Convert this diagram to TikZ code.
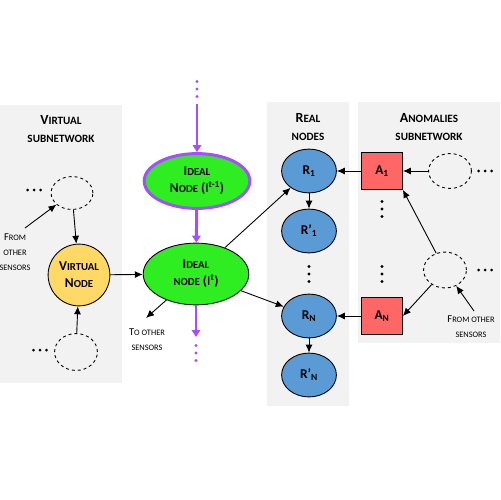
\documentclass[tikz,border=0pt]{standalone}
\usepackage{fontspec}
\setmainfont{Carlito}
\usepackage{tikz}
\usetikzlibrary{shapes.geometric,arrows.meta}

\definecolor{panelgray}{RGB}{242,242,242}
\definecolor{idealgreen}{RGB}{46,238,34}
\definecolor{violetline}{RGB}{166,77,255}
\definecolor{virtualyellow}{RGB}{255,217,102}
\definecolor{realblue}{RGB}{91,155,213}
\definecolor{anomred}{RGB}{255,102,102}

\makeatletter
\newcommand\sml[1]{{\fontsize{\fpeval{0.8*\f@size}}{\f@baselineskip}\selectfont #1}}
\makeatother

\begin{document}
\begin{tikzpicture}[x=1bp,y=-1bp]
	
	\tikzset{panel/.style = {fill=panelgray}}
	\tikzset{title/.style = {align=center,font=\bfseries\fontsize{14}{19}\selectfont}}
	\tikzset{note/.style = {align=center,inner sep=0pt,font=\fontsize{10.5}{15}\selectfont}}
	\tikzset{label/.style = {align=center,inner sep=0pt,font=\bfseries\fontsize{13.5}{17}\selectfont}}
	\tikzset{idealnode/.style = {label,shape=ellipse,draw,fill=idealgreen,line width=0.9pt,minimum width=106,minimum height=62}}
	\tikzset{virtualnode/.style = {label,shape=circle,draw,fill=virtualyellow,line width=0.9pt,minimum size=62}}
	\tikzset{realnode/.style = {label,shape=ellipse,draw,fill=realblue,line width=0.9pt,minimum width=55,minimum height=44}}
	\tikzset{anomnode/.style = {label,shape=rectangle,draw,fill=anomred,line width=0.9pt,minimum width=41,minimum height=37}}
	\tikzset{ghost/.style = {shape=ellipse,draw,dashed,line width=0.9pt,minimum width=43,minimum height=35}}
	\tikzset{edge/.style = {->,>={Latex[length=8pt,width=7pt]},line width=0.9pt}}
	\tikzset{timeedge/.style = {->,>={Triangle[length=7pt,width=8.5pt]},line width=3pt,draw=violetline}}
	\tikzset{hdots/.pic = {\foreach \i in {-1,0,1} \fill (\i*6.5,0) circle (1.5);}}
	\tikzset{vdots/.pic = {\foreach \i in {-1,0,1} \fill (0,\i*7.5) circle (1.6);}}
	
	\useasboundingbox (0,0) rectangle (500,500);
	
	\fill[panel] (0,105) rectangle (122,383);
	\fill[panel] (267,102) rectangle (349,406);
	\fill[panel] (358,102) rectangle (500,343);
	
	\node[title] (vtitle) at (61,129) {V\sml{IRTUAL}\\\sml{SUBNETWORK}};
	\node[title] (rtitle) at (308,127) {R\sml{EAL}\\\sml{NODES}};
	\node[title] (atitle) at (429,127) {A\sml{NOMALIES}\\\sml{SUBNETWORK}};
	
	\node[ghost,minimum width=42,minimum height=33] (vtop) at (72,193) {};
	\node[ghost,minimum width=43,minimum height=37] (vbot) at (76,352) {};
	\node[virtualnode] (virtual) at (79,275) {V\sml{IRTUAL}\\N\sml{ODE}};
	\node[note] (fromleft) at (15,252) {F\sml{ROM}\\\sml{OTHER}\\\sml{SENSORS}};
	\coordinate (fromleftend) at (25,228);
	
	\node[idealnode,draw=violetline,line width=3pt,minimum height=55] (prevideal) at (197,181) {I\sml{DEAL}\\N\sml{ODE} ($\mathrm{I}$\textsuperscript{t-1})};
	\node[idealnode] (ideal) at (196,274) {I\sml{DEAL}\\\sml{NODE} ($\mathrm{I}$\textsuperscript{t})};
	\node[note] (toothers) at (147,340) {T\sml{O OTHER}\\\sml{SENSORS}};
	\coordinate (toothersend) at (146,318);
	\coordinate (timein) at (197,104);
	\coordinate (timeout) at (196,337);
	
	\node[realnode] (r1) at (309,171) {R\textsubscript{1}};
	\node[realnode] (r1p) at (309,231) {R’\textsubscript{1}};
	\node[realnode] (rn) at (309,316) {R\textsubscript{N}};
	\node[realnode] (rnp) at (309,375) {R’\textsubscript{N}};
	
	\node[anomnode] (a1) at (382,171) {A\textsubscript{1}};
	\node[anomnode] (an) at (382,316) {A\textsubscript{N}};
	\node[ghost] (atop) at (450,171) {};
	\node[ghost,minimum height=36] (abot) at (445,270) {};
	\node[note] (fromright) at (471,327) {F\sml{ROM OTHER}\\\sml{SENSORS}};
	\coordinate (fromrightend) at (474,311);
	
	\pic at (34,190) {hdots};
	\pic at (40,350) {hdots};
	\pic at (485,171) {hdots};
	\pic at (485,270) {hdots};
	\pic at (309,274) {vdots};
	\pic at (382,209) {vdots};
	\pic at (382,274) {vdots};
	\pic[color=violetline] at (197,89) {vdots};
	\pic[color=violetline] at (196,353) {vdots};
	
	\draw[edge] (vtop) -- (virtual);
	\draw[edge] (vbot) -- (virtual);
	\draw[edge] (fromleftend) -- (vtop);
	\draw[edge] (virtual) -- (ideal);
	\draw[edge] (ideal) -- (toothersend);
	
	\draw[timeedge] (timein) -- (prevideal);
	\draw[timeedge] (prevideal) -- (ideal);
	\draw[timeedge] (ideal) -- (timeout);
	
	\draw[edge] (ideal) -- (r1);
	\draw[edge] (ideal) -- (rn);
	\draw[edge] (r1) -- (r1p);
	\draw[edge] (rn) -- (rnp);
	\draw[edge] (a1) -- (r1);
	\draw[edge] (an) -- (rn);
	\draw[edge] (atop) -- (a1);
	\draw[edge] (abot) -- (a1.south east);
	\draw[edge] (abot) -- (an.east);
	\draw[edge] (fromrightend) -- (abot);
	\end{tikzpicture}
\end{document}
